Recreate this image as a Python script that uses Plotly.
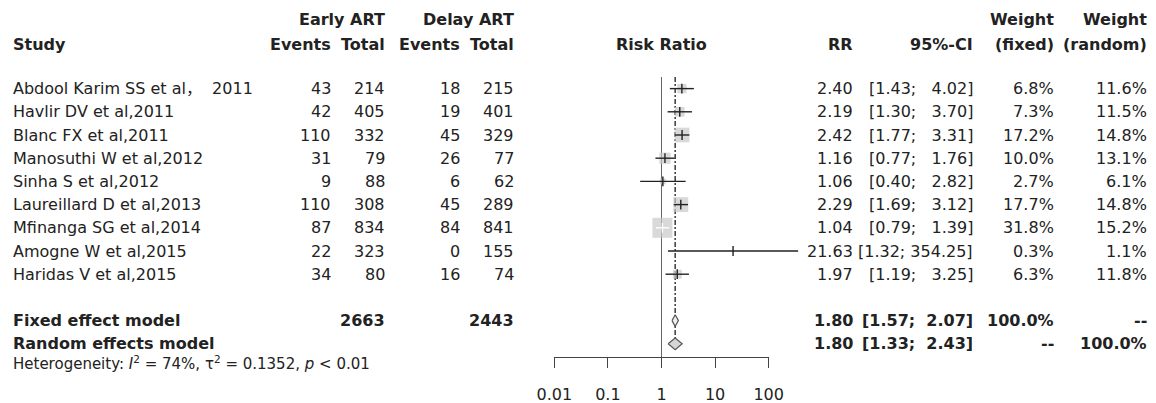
import math
import plotly.graph_objects as go

# ---------------- data ----------------
studies = ["Abdool Karim SS et al\uff0c  2011", "Havlir DV et al,2011", "Blanc FX et al,2011",
           "Manosuthi W et al,2012", "Sinha S et al,2012", "Laureillard D et al,2013",
           "Mfinanga SG et al,2014", "Amogne W et al,2015", "Haridas V et al,2015"]
early_events = [43, 42, 110, 31, 9, 110, 87, 22, 34]
early_total = [214, 405, 332, 79, 88, 308, 834, 323, 80]
delay_events = [18, 19, 45, 26, 6, 45, 84, 0, 16]
delay_total = [215, 401, 329, 77, 62, 289, 841, 155, 74]
rr = [2.40, 2.19, 2.42, 1.16, 1.06, 2.29, 1.04, 21.63, 1.97]
ci_low = [1.43, 1.30, 1.77, 0.77, 0.40, 1.69, 0.79, 1.32, 1.19]
ci_high = [4.02, 3.70, 3.31, 1.76, 2.82, 3.12, 1.39, 354.25, 3.25]
weight_fixed = [6.8, 7.3, 17.2, 10.0, 2.7, 17.7, 31.8, 0.3, 6.3]
weight_random = [11.6, 11.5, 14.8, 13.1, 6.1, 14.8, 15.2, 1.1, 11.8]

model_names = ["Fixed effect model", "Random effects model"]
model_rr = [1.80, 1.80]
model_low = [1.57, 1.33]
model_high = [2.07, 2.43]
model_wfixed = ["100.0%", "--"]
model_wrandom = ["--", "100.0%"]
total_early = 2663
total_delay = 2443
heterogeneity = ("Heterogeneity: <i>I</i><sup>2</sup> = 74%, \u03c4<sup>2</sup> = 0.1352, "
                 "<i>p</i> &lt; 0.01")
tick_values = [0.01, 0.1, 1, 10, 100]
tick_labels = ["0.01", "0.1", "1", "10", "100"]

# ---------------- geometry ----------------
W, H = 1156, 403
ROW0, ROWH = 88.6, 23.2          # pixel y of first study row, row height
X1, DEC = 661.5, 53.6             # pixel x of RR=1, pixels per decade
AXIS_PX = 357
FONT = "DejaVu Sans, Noto Sans CJK SC"
TXT = "#222222"
INK = "#222222"


def prow(px):
    return (px - ROW0) / ROWH


def pxx(px):
    return px / W


n = len(studies)
rows = list(range(n))
fixed_row, random_row = n + 1, n + 2
axis_row = prow(AXIS_PX)

fig = go.Figure()

# reference line at RR = 1
fig.add_trace(go.Scatter(x=[1, 1], y=[-0.5, axis_row], mode="lines",
                         line=dict(color="#666666", width=1), hoverinfo="skip"))

# pooled-estimate line (dashed / dotted overlay)
dh = 0.25
fig.add_trace(go.Scatter(x=[model_rr[1], model_rr[1]], y=[-0.5, random_row - dh], mode="lines",
                         line=dict(color="#3a3a3a", width=1.5, dash="5px,2px,2px,2px"),
                         hoverinfo="skip"))

# squares (area proportional to fixed weight)
max_w = max(weight_fixed)
sq_px = [20.0 * math.sqrt(w / max_w) for w in weight_fixed]
fig.add_trace(go.Scatter(x=rr, y=rows, mode="markers",
                         marker=dict(symbol="square", size=sq_px, color="#c9c9c9",
                                     line=dict(width=0)), hoverinfo="skip"))

# confidence intervals: white when clearly inside the square
inside = [(math.log10(h) - math.log10(l)) * DEC < 0.8 * s
          for l, h, s in zip(ci_low, ci_high, sq_px)]
bx, by, wx, wy = [], [], [], []
for i in rows:
    tx, ty = (wx, wy) if inside[i] else (bx, by)
    tx += [ci_low[i], ci_high[i], None]
    ty += [i, i, None]
fig.add_trace(go.Scatter(x=bx, y=by, mode="lines", line=dict(color=INK, width=1.4),
                         hoverinfo="skip"))
fig.add_trace(go.Scatter(x=wx, y=wy, mode="lines", line=dict(color="white", width=1.4),
                         hoverinfo="skip"))
tick_cols = ["white" if f else INK for f in inside]
fig.add_trace(go.Scatter(x=rr, y=rows, mode="markers",
                         marker=dict(symbol="line-ns-open", size=7, color=tick_cols,
                                     line=dict(width=1.4, color=tick_cols)),
                         hoverinfo="skip"))

# diamonds
diamond_fill = ["#eeeeee", "#d6d6d6"]
for k, r in enumerate([fixed_row, random_row]):
    fig.add_trace(go.Scatter(
        x=[model_low[k], model_rr[k], model_high[k], model_rr[k], model_low[k]],
        y=[r, r - dh, r, r + dh, r], mode="lines", fill="toself",
        fillcolor=diamond_fill[k], line=dict(color="#555555", width=1.2), hoverinfo="skip"))

# invisible trace carrying the visible risk-ratio axis
fig.add_trace(go.Scatter(x=tick_values, y=[axis_row] * len(tick_values), xaxis="x2",
                         mode="markers", marker=dict(opacity=0), hoverinfo="skip"))

# ---------------- table text ----------------
ann = []


def add(text, px, r, anchor="right", bold=False, size=16):
    t = f"<b>{text}</b>" if bold else text
    ann.append(dict(text=t, x=pxx(px), y=r, xref="paper", yref="y", xanchor=anchor,
                    yanchor="middle", showarrow=False, borderpad=0,
                    font=dict(family=FONT, size=size, color=TXT)))


def nb(s):
    return s.replace(" ", "\u00a0")


def fmt_ci(lo, hi, width):
    return nb(f"[{lo:.2f}; {hi:{width}.2f}]")


ci_width = max(len(f"{h:.2f}") for h in ci_high)

# headers
HR1, HR2 = -3.0, -1.92
add("Early ART", 386, HR1, bold=True)
add("Delay ART", 515, HR1, bold=True)
add("Weight", 1055, HR1, bold=True)
add("Weight", 1148, HR1, bold=True)
add("Study", 12, HR2, anchor="left", bold=True)
add("Events", 332, HR2, bold=True)
add("Total", 386, HR2, bold=True)
add("Events", 461, HR2, bold=True)
add("Total", 515, HR2, bold=True)
add("Risk Ratio", X1, HR2, anchor="center", bold=True)
add("RR", 854, HR2, bold=True)
add("95%-CI", 974, HR2, bold=True)
add("(fixed)", 1055, HR2, bold=True)
add("(random)", 1148, HR2, bold=True)

for i in rows:
    add(nb(studies[i]), 12, i, anchor="left")
    add(str(early_events[i]), 332, i)
    add(str(early_total[i]), 386, i)
    add(str(delay_events[i]), 461, i)
    add(str(delay_total[i]), 515, i)
    add(f"{rr[i]:.2f}", 854, i)
    add(fmt_ci(ci_low[i], ci_high[i], ci_width), 974, i)
    add(f"{weight_fixed[i]:.1f}%", 1055, i)
    add(f"{weight_random[i]:.1f}%", 1148, i)

for k, r in enumerate([fixed_row, random_row]):
    add(model_names[k], 12, r, anchor="left", bold=True)
    add(f"{model_rr[k]:.2f}", 854, r, bold=True)
    add(fmt_ci(model_low[k], model_high[k], ci_width - 1), 974, r, bold=True)
    add(model_wfixed[k], 1055, r, bold=True)
    add(model_wrandom[k], 1148, r, bold=True)
add(str(total_early), 386, fixed_row, bold=True)
add(str(total_delay), 515, fixed_row, bold=True)
add(heterogeneity, 12, prow(363), anchor="left", size=15)

fig.update_layout(
    width=W, height=H, autosize=False,
    margin=dict(l=0, r=0, t=0, b=0, pad=0, autoexpand=False),
    paper_bgcolor="white", plot_bgcolor="rgba(0,0,0,0)",
    showlegend=False,
    annotations=ann,
    xaxis=dict(type="log", domain=[0, 1], automargin=False,
               range=[(0 - X1) / DEC, (W - X1) / DEC], visible=False, fixedrange=True),
    xaxis2=dict(type="log", domain=[(X1 - 2 * DEC) / W, (X1 + 2 * DEC) / W], range=[-2, 2],
                anchor="free", position=(H - AXIS_PX) / H, automargin=False,
                showline=True, linecolor="#444444", linewidth=1,
                ticks="outside", ticklen=10, tickwidth=1, tickcolor="#444444",
                tickvals=tick_values, ticktext=tick_labels, ticklabelstandoff=13,
                tickfont=dict(family=FONT, size=16, color=TXT),
                showgrid=False, zeroline=False, fixedrange=True),
    yaxis=dict(range=[(H - ROW0) / ROWH, -ROW0 / ROWH], visible=False, fixedrange=True,
               automargin=False),
)

fig.write_html("out.html", config={"displayModeBar": False},
               post_script="document.body.style.margin='0px';")
